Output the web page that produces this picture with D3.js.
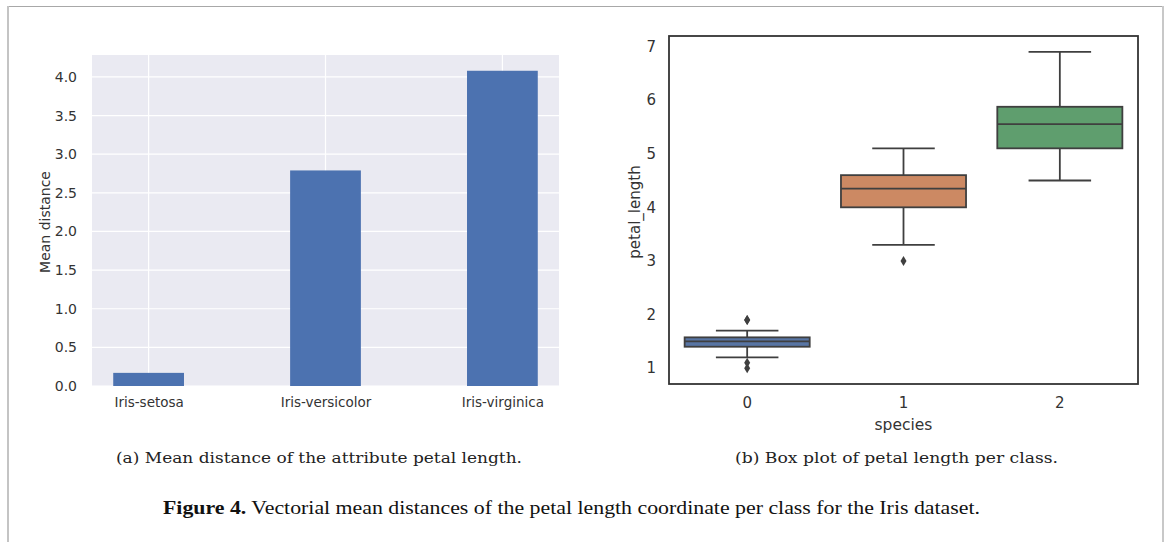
<!DOCTYPE html>
<html lang="en">
<head>
<meta charset="UTF-8">
<title>Figure 4</title>
<script src="https://d3js.org/d3.v7.min.js"></script>
<style>
  body { margin: 0; background: #fff; }
  svg { display: block; }
</style>
</head>
<body>
<script>
// bar chart (a)
var species = ["Iris-setosa", "Iris-versicolor", "Iris-virginica"];
var meanDist = [0.17, 2.79, 4.08];
var meanTicks = [0, 0.5, 1, 1.5, 2, 2.5, 3, 3.5, 4];

// box plot (b)
var classes = ["0", "1", "2"];
var q1 = [1.4, 4.0, 5.1];
var med = [1.5, 4.35, 5.55];
var q3 = [1.575, 4.6, 5.875];
var whiskLo = [1.2, 3.3, 4.5];
var whiskHi = [1.7, 5.1, 6.9];
var outliers = [[1.0, 1.1, 1.9, 1.9], [3.0], []];
var boxTicks = [1, 2, 3, 4, 5, 6, 7];
var boxColors = ["#5875a4", "#cc8963", "#5f9e6e"];

var W = 1167, H = 542;
var svg = d3.select("body").append("svg").attr("width", W).attr("height", H);

// page frame
svg.append("line").attr("x1", 7).attr("x2", 1163).attr("y1", 6.5).attr("y2", 6.5)
  .attr("stroke", "#a8a8a8").attr("stroke-width", 1);
svg.append("line").attr("x1", 8).attr("x2", 8).attr("y1", 6).attr("y2", H)
  .attr("stroke", "#c4c4c4").attr("stroke-width", 2);
svg.append("line").attr("x1", 1163).attr("x2", 1163).attr("y1", 6).attr("y2", H)
  .attr("stroke", "#c8c8c8").attr("stroke-width", 2);

var sans = "'DejaVu Sans', sans-serif";
var txt = "#333";

// ---------- (a) ----------
var ax = d3.scaleLinear().domain([-0.32, 2.32]).range([92, 559]);
var ay = d3.scaleLinear().domain([0, 4.284]).range([386, 55]);
var a = svg.append("g");
a.append("rect").attr("x", ax(-0.32)).attr("y", ay(4.284))
  .attr("width", ax(2.32) - ax(-0.32)).attr("height", ay(0) - ay(4.284))
  .attr("fill", "#eaeaf2");

// gridlines
a.selectAll(".hg").data(meanTicks).enter().append("line")
  .attr("x1", ax(-0.32)).attr("x2", ax(2.32))
  .attr("y1", d => ay(d)).attr("y2", d => ay(d))
  .attr("stroke", "#fff").attr("stroke-width", 1.2);
a.selectAll(".vg").data(species).enter().append("line")
  .attr("x1", (d, i) => ax(i)).attr("x2", (d, i) => ax(i))
  .attr("y1", ay(0)).attr("y2", ay(4.284))
  .attr("stroke", "#fff").attr("stroke-width", 1.2);

a.selectAll(".bar").data(meanDist).enter().append("rect")
  .attr("x", (d, i) => ax(i - 0.2)).attr("width", ax(0.2) - ax(-0.2))
  .attr("y", d => ay(d)).attr("height", d => ay(0) - ay(d))
  .attr("fill", "#4c72b0");

var ayAxis = a.append("g").attr("transform", "translate(" + (ax(-0.32) - 12) + ",0)")
  .call(d3.axisLeft(ay).tickValues(meanTicks).tickFormat(d3.format(".1f")).tickSize(0));
ayAxis.select(".domain").remove();
ayAxis.selectAll("text").attr("font-family", sans).attr("font-size", 14).attr("fill", txt).attr("dx", 0);

var axAxis = a.append("g").attr("transform", "translate(0," + (ay(0) + 8) + ")")
  .call(d3.axisBottom(ax).tickValues([0, 1, 2]).tickFormat(i => species[i]).tickSize(0));
axAxis.select(".domain").remove();
axAxis.selectAll("text").attr("font-family", sans).attr("font-size", 13.5).attr("fill", txt);

a.append("text").attr("transform", "translate(50,222) rotate(-90)")
  .attr("text-anchor", "middle").attr("font-family", sans).attr("font-size", 14)
  .attr("fill", txt).text("Mean distance");

// ---------- (b) ----------
var bx = d3.scaleBand().domain(classes).range([669, 1138]);
var by = d3.scaleLinear().domain([0.705, 7.195]).range([384, 36]);
var b = svg.append("g");
var bw = bx.bandwidth() * 0.8;
var lineCol = "#3f3f3f";

classes.forEach(function(c, i) {
  var cx = bx(c) + bx.bandwidth() / 2;
  var g = b.append("g");
  // whiskers
  g.append("line").attr("x1", cx).attr("x2", cx).attr("y1", by(q3[i])).attr("y2", by(whiskHi[i]))
    .attr("stroke", lineCol).attr("stroke-width", 1.8);
  g.append("line").attr("x1", cx).attr("x2", cx).attr("y1", by(q1[i])).attr("y2", by(whiskLo[i]))
    .attr("stroke", lineCol).attr("stroke-width", 1.8);
  [whiskHi[i], whiskLo[i]].forEach(function(v) {
    g.append("line").attr("x1", cx - bw / 4).attr("x2", cx + bw / 4)
      .attr("y1", by(v)).attr("y2", by(v))
      .attr("stroke", lineCol).attr("stroke-width", 1.8);
  });
  g.append("rect").attr("x", cx - bw / 2).attr("width", bw)
    .attr("y", by(q3[i])).attr("height", by(q1[i]) - by(q3[i]))
    .attr("fill", boxColors[i]).attr("stroke", lineCol).attr("stroke-width", 1.8);
  g.append("line").attr("x1", cx - bw / 2).attr("x2", cx + bw / 2)
    .attr("y1", by(med[i])).attr("y2", by(med[i]))
    .attr("stroke", lineCol).attr("stroke-width", 1.8);
  g.selectAll(".out").data(outliers[i]).enter().append("path")
    .attr("d", d => "M" + cx + "," + (by(d) - 5) + "L" + (cx + 3) + "," + by(d) +
      "L" + cx + "," + (by(d) + 5) + "L" + (cx - 3) + "," + by(d) + "Z")
    .attr("fill", lineCol);
});

b.append("rect").attr("x", 669).attr("y", 36).attr("width", 1138 - 669).attr("height", 384 - 36)
  .attr("fill", "none").attr("stroke", "#333").attr("stroke-width", 1.8);

var byAxis = b.append("g").attr("transform", "translate(" + (669 - 10) + ",0)")
  .call(d3.axisLeft(by).tickValues(boxTicks).tickFormat(d3.format("d")).tickSize(0));
byAxis.select(".domain").remove();
byAxis.selectAll("text").attr("font-family", sans).attr("font-size", 15).attr("fill", txt);

var bxAxis = b.append("g").attr("transform", "translate(0," + (384 + 10) + ")")
  .call(d3.axisBottom(bx).tickSize(0));
bxAxis.select(".domain").remove();
bxAxis.selectAll("text").attr("font-family", sans).attr("font-size", 15).attr("fill", txt);

b.append("text").attr("x", (669 + 1138) / 2).attr("y", 430)
  .attr("text-anchor", "middle").attr("font-family", sans).attr("font-size", 15.5)
  .attr("fill", txt).text("species");
b.append("text").attr("transform", "translate(640,212) rotate(-90)")
  .attr("text-anchor", "middle").attr("font-family", sans).attr("font-size", 15)
  .attr("fill", txt).text("petal_length");

// ---------- captions ----------
var serif = "'DejaVu Serif', serif";
svg.append("text").attr("x", 116).attr("y", 463).attr("font-family", serif).attr("font-size", 14)
  .attr("fill", "#222").attr("textLength", 406).attr("lengthAdjust", "spacingAndGlyphs")
  .text("(a) Mean distance of the attribute petal length.");
svg.append("text").attr("x", 735).attr("y", 463).attr("font-family", serif).attr("font-size", 14)
  .attr("fill", "#222").attr("textLength", 323).attr("lengthAdjust", "spacingAndGlyphs")
  .text("(b) Box plot of petal length per class.");

var fig = svg.append("text").attr("x", 163).attr("y", 514)
  .attr("font-family", "'Liberation Serif', serif").attr("font-size", 19).attr("fill", "#111")
  .attr("textLength", 817).attr("lengthAdjust", "spacingAndGlyphs");
fig.append("tspan").attr("font-weight", "bold").text("Figure 4.");
fig.append("tspan").text(" Vectorial mean distances of the petal length coordinate per class for the Iris dataset.");
</script>
</body>
</html>
